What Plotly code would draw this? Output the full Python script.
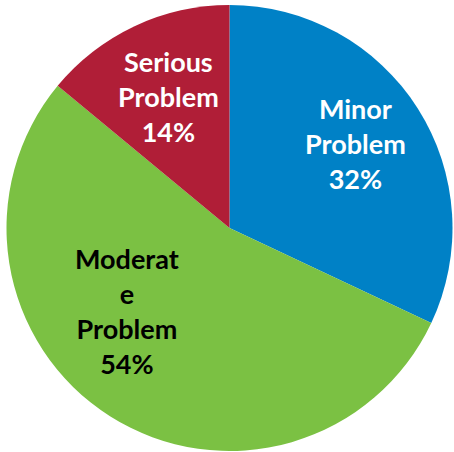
import plotly.graph_objects as go

# dados do gráfico
categorias = ["Minor Problem", "Moderate Problem", "Serious Problem"]
valores = [32, 54, 14]
rotulos = ["Minor<br>Problem", "Moderat<br>e<br>Problem", "Serious<br>Problem"]
cores = ["#0081C6", "#7BC143", "#B01E37"]
cores_texto = ["white", "black", "white"]

W, H = 454, 452

fig = go.Figure(go.Pie(
    labels=categorias,
    values=valores,
    sort=False,
    direction="clockwise",
    rotation=0,
    marker=dict(colors=cores, line=dict(width=0)),
    textinfo="none",
    hoverinfo="label+percent",
    showlegend=False,
    domain=dict(x=[5 / W, 454 / W], y=[1 - 451 / H, 1 - 5 / H]),
))

# posição (px) do centro de cada rótulo
pos_rotulos = [(355, 143), (127, 311), (168, 97)]
total = sum(valores)
for rot, v, cor, (px, py) in zip(rotulos, valores, cores_texto, pos_rotulos):
    fig.add_annotation(
        text=f"{rot}<br>{round(v / total * 100)}%",
        x=px / W, y=1 - py / H,
        xref="paper", yref="paper",
        xanchor="center", yanchor="middle",
        showarrow=False,
        align="center",
        font=dict(family="Lato", size=27, color=cor, weight="bold"),
    )

fig.update_layout(
    width=W, height=H,
    margin=dict(l=0, r=0, t=0, b=0),
    paper_bgcolor="white",
    plot_bgcolor="white",
)

# tira a margem padrão do body para o gráfico ocupar a janela toda
fig.write_html(
    "out.html",
    config={"displayModeBar": False},
    post_script="document.body.style.margin='0';",
)
